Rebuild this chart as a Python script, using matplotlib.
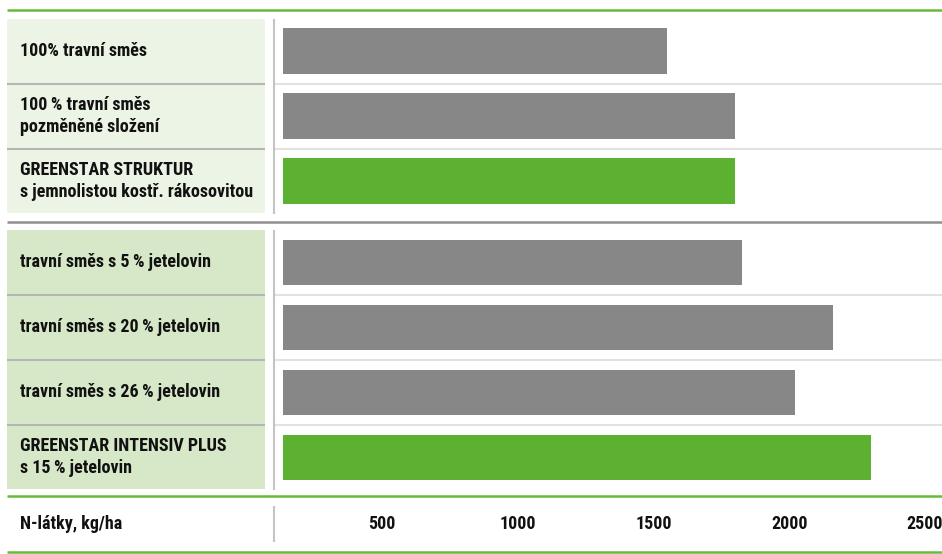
import matplotlib.pyplot as plt
import matplotlib.transforms as mtransforms
from matplotlib import font_manager
from matplotlib.patches import Rectangle

# data
labels = ['100% travní směs',
          '100\u2009% travní směs\npozměněné složení',
          'GREENSTAR STRUKTUR\ns jemnolistou kostř. rákosovitou',
          'travní směs s 5\u2009% jetelovin',
          'travní směs s 20\u2009% jetelovin',
          'travní směs s 26\u2009% jetelovin',
          'GREENSTAR INTENSIV PLUS\ns 15\u2009% jetelovin']
values = [1550, 1800, 1800, 1825, 2160, 2020, 2300]
group = [0, 0, 0, 1, 1, 1, 1]
highlight = [False, False, True, False, False, False, True]
ticks = [500, 1000, 1500, 2000, 2500]
axis_label = 'N-látky, kg/ha'

GREY = '#878787'
GREEN = '#5db130'
LINE_GREEN = '#66bb3c'
PANEL = ['#ecf4e5', '#d7e8c8']

font = 'DejaVu Sans'
for f in ['Liberation Sans Narrow', 'Roboto Condensed', 'Open Sans Condensed']:
    try:
        font_manager.findfont(f, fallback_to_default=False)
        font = f
        break
    except Exception:
        pass
plt.rcParams['font.family'] = [font, 'DejaVu Sans']
FS = 13

W, H = 942, 554
fig = plt.figure(figsize=(W / 100, H / 100), dpi=100)
ax = fig.add_axes([283 / W, 0, 1 - 283 / W, 1])
ax.set_xlim(136, 2563)
ax.set_ylim((H - 51) / 65, -51 / 65)
ax.axis('off')

ypos = [i + 0.25 * g for i, g in enumerate(group)]
ax.barh(ypos, values, height=0.7,
        color=[GREEN if h else GREY for h in highlight], zorder=3)

tr = mtransforms.blended_transform_factory(fig.transFigure, ax.transData)

def hline(y, x0, x1, color, lw):
    ax.plot([x0 / W, x1 / W], [y, y], color=color, lw=lw, transform=tr,
            clip_on=False, solid_capstyle='butt')

def vline(x, y0, y1):
    ax.plot([x / W, x / W], [y0, y1], color='#c4c4c4', lw=1.5, transform=tr,
            clip_on=False, solid_capstyle='butt')

# left label panel
for y, g, lab in zip(ypos, group, labels):
    ax.add_patch(Rectangle((7 / W, y - 0.49), (265 - 7) / W, 0.98,
                           facecolor=PANEL[g], edgecolor='none', transform=tr,
                           clip_on=False, zorder=1))
    ax.text(20 / W, y, lab, transform=tr, ha='left', va='center',
            fontsize=FS, fontweight='bold', color='#111111',
            linespacing=1.3, zorder=4)

# row separators
for i in range(len(ypos) - 1):
    if group[i] == group[i + 1]:
        ys = (ypos[i] + ypos[i + 1]) / 2
        hline(ys, 7, 265, '#b5b5b5', 1.5)
        hline(ys, 275, W, '#e2e2e2', 1.5)

top0, bot0 = ypos[0] - 0.5, ypos[2] + 0.5
top1, bot1 = ypos[3] - 0.5, ypos[-1] + 0.5
vline(274, top0, bot0)
vline(274, top1, bot1)

hline(top0 - 0.13, 7, W, LINE_GREEN, 1.8)
hline((bot0 + top1) / 2, 7, W, '#8f8f8f', 1.8)
hline(bot1 + 0.1, 7, W, LINE_GREEN, 1.8)
ybot = bot1 + 0.1 + 0.86
hline(ybot, 7, W, LINE_GREEN, 1.8)

ylab = (bot1 + 0.1 + ybot) / 2
vline(274, ylab - 0.28, ylab + 0.28)
ax.text(20 / W, ylab, axis_label, transform=tr, ha='left', va='center',
        fontsize=FS, fontweight='bold', color='#111111')
for t in ticks:
    ax.text(t, ylab, str(t), ha='center', va='center', fontsize=FS,
            fontweight='bold', color='#111111', clip_on=False)

fig.savefig('out.png', dpi=100)
